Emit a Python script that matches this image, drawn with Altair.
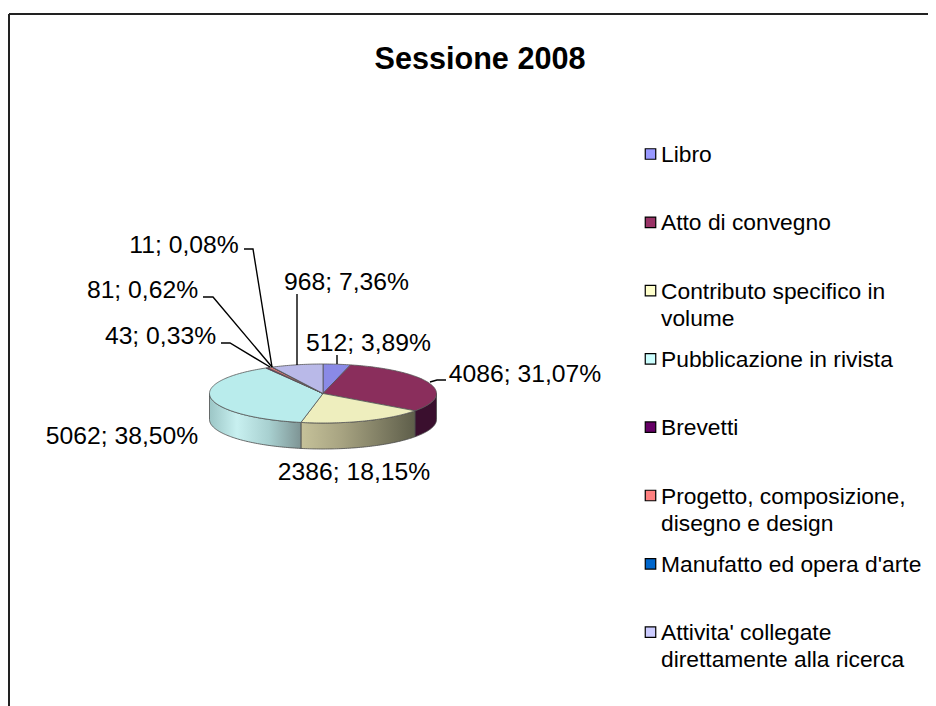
import numpy as np
import pandas as pd
import altair as alt

TITLE = "Sessione 2008"
CATEGORIES = ["Libro", "Atto di convegno", "Contributo specifico in volume", "Pubblicazione in rivista",
              "Brevetti", "Progetto, composizione, disegno e design", "Manufatto ed opera d'arte",
              "Attivita' collegate direttamente alla ricerca"]
LEGEND_TEXT = ["Libro", "Atto di convegno", "Contributo specifico in\nvolume", "Pubblicazione in rivista",
               "Brevetti", "Progetto, composizione,\ndisegno e design", "Manufatto ed opera d'arte",
               "Attivita' collegate\ndirettamente alla ricerca"]
VALUES = [512, 4086, 2386, 5062, 43, 81, 11, 968]
PERCENT_LABELS = ["3,89%", "31,07%", "18,15%", "38,50%", "0,33%", "0,62%", "0,08%", "7,36%"]
LEGEND_COLORS = ["#9999FF", "#993366", "#FFFFCC", "#CCFFFF", "#660066", "#FF8080", "#0066CC", "#CCCCFF"]
FACE_COLORS = ["#8A8AE6", "#8A2E5C", "#EEEEBE", "#B9ECEC", "#5C005C", "#E67373", "#005CB8", "#B9B9E8"]

# layout (page pixels)
OX, OY = 8, 8
CX, CY, A, B, DEPTH = 323, 393.5, 113.5, 29.5, 26
LABEL_POS = [(368.5, 344), (525, 375), (354, 473), (122, 437), (160.5, 337), (142.5, 291), (184, 246), (346.5, 283)]
LEADERS = [
    [(337, 355), (337, 364)],
    [(430, 382), (437, 380), (446, 380)],
    [],
    [],
    [(221, 343), (230, 343), (270, 367)],
    [(203, 297), (213, 297), (272, 367)],
    [(244, 249), (253, 249), (272, 367)],
    [(297, 294), (297, 365)],
]

vals = np.array(VALUES, dtype=float)
edges = np.concatenate([[0], np.cumsum(vals) / vals.sum() * 2 * np.pi])


def rim(t0, t1, dy=0.0):
    n = max(2, int(abs(t1 - t0) / 0.02) + 2)
    ts = np.linspace(t0, t1, n)
    return [[float(CX + A * np.sin(t) - OX), float(CY - B * np.cos(t) + dy - OY)] for t in ts]


def feature(ring, fill=None):
    ring = ring + [ring[0]]
    return {"type": "Feature", "properties": {"fill": fill},
            "geometry": {"type": "Polygon", "coordinates": [ring]}}


projection = dict(type="identity", scale=1, translate=[0, 0])

walls = [
    (1, [(0, "#3A0F2E"), (1, "#3A0F2E")]),
    (2, [(0, "#C6C29A"), (0.35, "#A8A482"), (1, "#5E5E4A")]),
    (3, [(0, "#9CC6C6"), (0.3, "#C8F0F0"), (0.65, "#A8D0D0"), (1, "#7E9494")]),
]
layers = []
for i, stops in walls:
    t0 = max(edges[i], np.pi / 2)
    t1 = min(edges[i + 1], 3 * np.pi / 2)
    ring = rim(t0, t1) + rim(t1, t0, DEPTH)
    layers.append(
        alt.Chart(alt.InlineData(values=[feature(ring)])).mark_geoshape(
            fill=alt.Gradient(gradient="linear", x1=0, x2=1, y1=0, y2=0,
                              stops=[alt.GradientStop(offset=o, color=c) for o, c in stops]),
            stroke="#4A4A4A", strokeWidth=0.8,
        ).project(**projection)
    )

faces = []
for i in range(len(VALUES)):
    ring = [[CX - OX, CY - OY]] + rim(edges[i], edges[i + 1])
    faces.append(feature(ring, FACE_COLORS[i]))
layers.append(
    alt.Chart(alt.InlineData(values=faces)).mark_geoshape(stroke="#555555", strokeWidth=0.8)
    .encode(fill=alt.Fill("properties.fill:N", scale=None))
    .project(**projection)
)

# chart frame
layers.append(alt.Chart(pd.DataFrame({"a": [0]})).mark_rule(color="#222222", strokeWidth=2).encode(
    x=alt.value(1), y=alt.value(6), y2=alt.value(698)))
layers.append(alt.Chart(pd.DataFrame({"a": [0]})).mark_rule(color="#222222", strokeWidth=2).encode(
    x=alt.value(1), x2=alt.value(928), y=alt.value(6)))

# leader lines
rows = []
for i, pts in enumerate(LEADERS):
    for k, (x, y) in enumerate(pts):
        rows.append({"cat": CATEGORIES[i], "k": k, "px": x - OX, "py": y - OY})
layers.append(alt.Chart(pd.DataFrame(rows)).mark_line(color="#000000", strokeWidth=1.4).encode(
    x=alt.X("px:Q", scale=None), y=alt.Y("py:Q", scale=None), detail="cat:N", order="k:Q"))

# data labels
labels = pd.DataFrame({
    "text": [f"{v}; {p}" for v, p in zip(VALUES, PERCENT_LABELS)],
    "px": [p[0] - OX for p in LABEL_POS],
    "py": [p[1] - OY for p in LABEL_POS],
})
layers.append(alt.Chart(labels).mark_text(font="Liberation Sans", fontSize=24.7, color="#000000").encode(
    x=alt.X("px:Q", scale=None), y=alt.Y("py:Q", scale=None), text="text:N"))

# title
layers.append(alt.Chart(pd.DataFrame({"t": [TITLE]})).mark_text(
    font="Liberation Sans", fontSize=30.6, fontWeight="bold", color="#000000").encode(
    x=alt.value(480 - OX), y=alt.value(60 - OY), text="t:N"))

# legend
leg = pd.DataFrame({
    "cat": CATEGORIES, "text": LEGEND_TEXT, "fill": LEGEND_COLORS,
    "sy": [154 + 68.3 * i - OY for i in range(8)],
})
leg["ty"] = leg["sy"] - 10
layers.append(alt.Chart(leg).mark_point(shape="square", size=110, filled=True, stroke="#000000",
                                        strokeWidth=1.2, opacity=1).encode(
    x=alt.value(650.5 - OX), y=alt.Y("sy:Q", scale=None), fill=alt.Fill("fill:N", scale=None)))
layers.append(alt.Chart(leg).mark_text(font="Liberation Sans", fontSize=22.8, color="#000000", align="left",
                                       baseline="top", lineBreak="\n", lineHeight=27).encode(
    x=alt.value(661 - OX), y=alt.Y("ty:Q", scale=None), text="text:N"))

chart = alt.layer(*layers).properties(
    width=920, height=698, padding=0, autosize=alt.AutoSizeParams(type="none"), background="#FFFFFF",
).configure_view(stroke=None)

chart.save("out.html", embed_options={"renderer": "svg", "actions": False})
